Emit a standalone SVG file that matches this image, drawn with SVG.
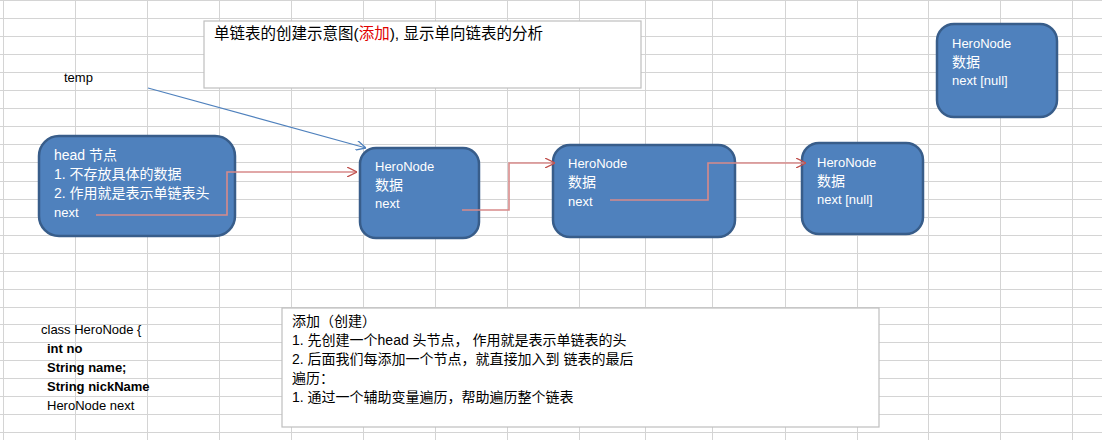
<svg xmlns="http://www.w3.org/2000/svg" width="1102" height="440" viewBox="0 0 1102 440">
<defs>
<style>
.grid line{stroke:#d4d4d4;stroke-width:1}
.node rect{fill:#4f81bd;stroke:#385d8a;stroke-width:2.5}
.node text{fill:#fff;font-family:"Liberation Sans","Noto Sans CJK SC",sans-serif;font-size:13px}
.node .cj{font-size:14px}
.t{font-family:"Liberation Sans","Noto Sans CJK SC",sans-serif;font-size:13px;fill:#000}
.n{font-size:14px}
.ttl{font-size:15.5px}
.b{font-weight:bold}
.box{fill:#fff;stroke:#bfbfbf;stroke-width:1.2}
.red{fill:none;stroke:#d88a8a;stroke-width:1.6}
</style>
<marker id="ar" viewBox="0 0 10 10" refX="10" refY="5" markerWidth="10" markerHeight="10" markerUnits="userSpaceOnUse" orient="auto"><path d="M0,0 L10,5 L0,10" fill="none" stroke="#c0504d" stroke-width="1.3"/></marker>
<marker id="ab" viewBox="0 0 10 10" refX="10" refY="5" markerWidth="10" markerHeight="10" markerUnits="userSpaceOnUse" orient="auto"><path d="M0,0 L10,5 L0,10" fill="none" stroke="#4f81bd" stroke-width="1.3"/></marker>
</defs>
<rect width="1102" height="440" fill="#fff"/>
<g class="grid">
<line x1="3.5" y1="0" x2="3.5" y2="440"/><line x1="75.5" y1="0" x2="75.5" y2="440"/><line x1="147.5" y1="0" x2="147.5" y2="440"/><line x1="219.5" y1="0" x2="219.5" y2="440"/><line x1="291.5" y1="0" x2="291.5" y2="440"/><line x1="363.5" y1="0" x2="363.5" y2="440"/><line x1="435.5" y1="0" x2="435.5" y2="440"/><line x1="507.5" y1="0" x2="507.5" y2="440"/><line x1="579.5" y1="0" x2="579.5" y2="440"/><line x1="645.5" y1="0" x2="645.5" y2="440"/><line x1="712.5" y1="0" x2="712.5" y2="440"/><line x1="785.5" y1="0" x2="785.5" y2="440"/><line x1="857.5" y1="0" x2="857.5" y2="440"/><line x1="928.5" y1="0" x2="928.5" y2="440"/><line x1="1000.5" y1="0" x2="1000.5" y2="440"/><line x1="1072.5" y1="0" x2="1072.5" y2="440"/>
<line x1="0" y1="0.5" x2="1102" y2="0.5"/><line x1="0" y1="18.5" x2="1102" y2="18.5"/><line x1="0" y1="36.5" x2="1102" y2="36.5"/><line x1="0" y1="54.5" x2="1102" y2="54.5"/><line x1="0" y1="72.5" x2="1102" y2="72.5"/><line x1="0" y1="90.5" x2="1102" y2="90.5"/><line x1="0" y1="108.5" x2="1102" y2="108.5"/><line x1="0" y1="126.5" x2="1102" y2="126.5"/><line x1="0" y1="144.5" x2="1102" y2="144.5"/><line x1="0" y1="162.5" x2="1102" y2="162.5"/><line x1="0" y1="181.5" x2="1102" y2="181.5"/><line x1="0" y1="199.5" x2="1102" y2="199.5"/><line x1="0" y1="217.5" x2="1102" y2="217.5"/><line x1="0" y1="235.5" x2="1102" y2="235.5"/><line x1="0" y1="253.5" x2="1102" y2="253.5"/><line x1="0" y1="271.5" x2="1102" y2="271.5"/><line x1="0" y1="289.5" x2="1102" y2="289.5"/><line x1="0" y1="307.5" x2="1102" y2="307.5"/><line x1="0" y1="324.5" x2="1102" y2="324.5"/><line x1="0" y1="342.5" x2="1102" y2="342.5"/><line x1="0" y1="360.5" x2="1102" y2="360.5"/><line x1="0" y1="378.5" x2="1102" y2="378.5"/><line x1="0" y1="396.5" x2="1102" y2="396.5"/><line x1="0" y1="414.5" x2="1102" y2="414.5"/><line x1="0" y1="432.5" x2="1102" y2="432.5"/>
</g>
<g id="title"><rect class="box" x="204" y="21" width="437" height="67"/>
<text class="t ttl" x="214" y="39">单链表的创建示意图(<tspan fill="#e00000">添加</tspan>), 显示单向链表的分析</text></g>
<g id="temp"><text class="t" x="64" y="82">temp</text></g>
<g id="head" class="node"><rect x="39" y="136" width="196" height="100" rx="20"/>
<text class="cj" x="54" y="160">head 节点</text><text class="cj" x="54" y="179">1. 不存放具体的数据</text><text class="cj" x="54" y="198">2. 作用就是表示单链表头</text><text x="54" y="217">next</text></g>
<g id="n1" class="node"><rect x="360" y="148" width="119" height="90" rx="16"/>
<text x="375" y="171">HeroNode</text><text class="cj" x="375" y="190">数据</text><text x="375" y="208">next</text></g>
<g id="n2" class="node"><rect x="553" y="145" width="182" height="92" rx="17"/>
<text x="568" y="168">HeroNode</text><text class="cj" x="568" y="187">数据</text><text x="568" y="206">next</text></g>
<g id="n3" class="node"><rect x="802" y="143" width="121" height="91" rx="17"/>
<text x="817" y="167">HeroNode</text><text class="cj" x="817" y="186">数据</text><text x="817" y="204">next [null]</text></g>
<g id="n4" class="node"><rect x="937" y="24" width="120" height="93" rx="17"/>
<text x="952" y="48">HeroNode</text><text class="cj" x="952" y="67">数据</text><text x="952" y="85">next [null]</text></g>
<g id="connectors">
<line x1="148" y1="88" x2="366" y2="148" stroke="#4f81bd" stroke-width="1.2" marker-end="url(#ab)"/>
<path class="red" d="M96,215 H227 V172 H357" marker-end="url(#ar)"/>
<path class="red" d="M462,210 H509 V163 H555" marker-end="url(#ar)"/>
<path class="red" d="M610,200 H708 V163 H806" marker-end="url(#ar)"/>
</g>
<g id="classdef">
<text class="t" x="41" y="334">class HeroNode {</text>
<text class="t b" x="47" y="353">int no</text>
<text class="t b" x="47" y="372">String name;</text>
<text class="t b" x="47" y="391">String nickName</text>
<text class="t" x="47" y="410">HeroNode next</text>
</g>
<g id="notes"><rect class="box" x="282" y="308" width="597" height="119"/>
<text class="t n" x="292" y="326">添加（创建）</text>
<text class="t n" x="292" y="345">1. 先创建一个head 头节点， 作用就是表示单链表的头</text>
<text class="t n" x="292" y="364">2. 后面我们每添加一个节点，就直接加入到  链表的最后</text>
<text class="t n" x="292" y="383">遍历：</text>
<text class="t n" x="292" y="402">1.  通过一个辅助变量遍历，帮助遍历整个链表</text>
</g>
</svg>
